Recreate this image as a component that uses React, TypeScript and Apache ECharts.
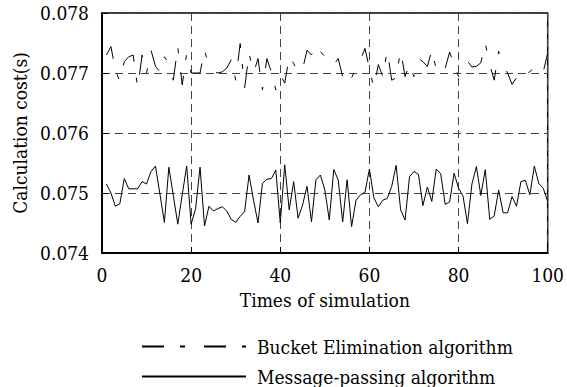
import React, { useEffect, useRef } from "react";
import * as echarts from "echarts";

const seriesNames = ["Bucket Elimination algorithm", "Message-passing algorithm"];
const yTicks = [0.074, 0.075, 0.076, 0.077, 0.078];
const xTicks = [0, 20, 40, 60, 80, 100];

// simulation runs 1..100
const bucketElimination = [
  0.0773, 0.07744, 0.07705, 0.07686, 0.07719, 0.07727, 0.0773, 0.07675, 0.0773, 0.077,
  0.07738, 0.07711, 0.07702, 0.07727, 0.07716, 0.07688, 0.07744, 0.0768, 0.07733, 0.077,
  0.077, 0.077, 0.07738, 0.07711, 0.07702, 0.077, 0.07702, 0.07708, 0.07722, 0.07688,
  0.07749, 0.07675, 0.07733, 0.077, 0.07724, 0.07672, 0.07724, 0.07702, 0.07672, 0.07697,
  0.07683, 0.07727, 0.07716, 0.077, 0.07706, 0.07738, 0.0773, 0.07745, 0.07736, 0.07727,
  0.07713, 0.07714, 0.07724, 0.07694, 0.07683, 0.07692, 0.07708, 0.07722, 0.07741, 0.07708,
  0.07675, 0.07714, 0.07694, 0.07738, 0.07688, 0.07692, 0.07738, 0.07694, 0.07714, 0.07694,
  0.07724, 0.07719, 0.07711, 0.07738, 0.07706, 0.07697, 0.07708, 0.07735, 0.07714, 0.07694,
  0.07706, 0.0772, 0.0771, 0.07711, 0.07717, 0.07749, 0.07714, 0.07688, 0.07736, 0.07714,
  0.077, 0.07681, 0.07692, 0.07688, 0.07697, 0.07702, 0.07711, 0.077, 0.07702, 0.07733,
];

const messagePassing = [
  0.07515, 0.075, 0.07478, 0.07482, 0.07524, 0.07507, 0.07507, 0.07507, 0.07519, 0.07515,
  0.07536, 0.07545, 0.07498, 0.07451, 0.07543, 0.07496, 0.07448, 0.07497, 0.07545, 0.07448,
  0.07474, 0.07543, 0.07445, 0.07478, 0.0747, 0.07474, 0.07477, 0.0747, 0.07456, 0.07451,
  0.07461, 0.07469, 0.0753, 0.07488, 0.0745, 0.07516, 0.07523, 0.07524, 0.07538, 0.0745,
  0.07547, 0.07472, 0.07519, 0.07458, 0.0748, 0.07511, 0.07452, 0.07522, 0.0753, 0.07505,
  0.07455, 0.07539, 0.07522, 0.07452, 0.07522, 0.07444, 0.07488, 0.07497, 0.07501, 0.0754,
  0.07492, 0.07477, 0.07488, 0.07491, 0.07511, 0.07546, 0.07472, 0.07455, 0.07527, 0.07536,
  0.07531, 0.07479, 0.0751, 0.07486, 0.0754, 0.07532, 0.07481, 0.07485, 0.07533, 0.07508,
  0.07495, 0.07449, 0.07515, 0.07544, 0.07496, 0.07539, 0.07456, 0.07462, 0.07505, 0.07467,
  0.07467, 0.07494, 0.07478, 0.07519, 0.07521, 0.07497, 0.07545, 0.07516, 0.07508, 0.07486,
];

const FONT = "DejaVu Serif Condensed, DejaVu Serif, serif";
const FS = 19;

export default function App() {
  const ref = useRef<HTMLDivElement>(null);
  useEffect(() => {
    if (!ref.current) return;
    const chart = echarts.init(ref.current, undefined, { renderer: "svg" });
    const toPairs = (arr: number[]) => arr.map((v, i) => [i + 1, v]);
    const legendCommon = {
      orient: "horizontal",
      left: 141,
      padding: 0,
      itemWidth: 104,
      itemHeight: 21,
      itemStyle: { opacity: 0, borderWidth: 0 },
      textStyle: { fontFamily: FONT, fontSize: FS, color: "#000", lineHeight: 21, padding: [0, 0, 0, 6] },
    };
    chart.setOption({
      animation: false,
      backgroundColor: "#ffffff",
      textStyle: { fontFamily: FONT, color: "#000" },
      grid: {
        left: 102,
        right: 15,
        top: 13,
        bottom: 134,
        show: true,
        borderColor: "#000",
        borderWidth: 1.5,
        backgroundColor: "transparent",
      },
      xAxis: {
        type: "value",
        min: xTicks[0],
        max: xTicks[xTicks.length - 1],
        interval: 20,
        name: "Times of simulation",
        nameLocation: "middle",
        nameGap: 37,
        nameTextStyle: { fontFamily: FONT, fontSize: FS, color: "#000" },
        axisLine: { show: true, lineStyle: { color: "#000", width: 2 } },
        axisTick: { show: true, inside: true, length: 6, lineStyle: { color: "#000", width: 1 } },
        axisLabel: { fontFamily: FONT, fontSize: FS, color: "#000", margin: 12 },
        splitLine: { show: true, lineStyle: { color: "#444", width: 1, type: [8, 5] } },
      },
      yAxis: {
        type: "value",
        min: yTicks[0],
        max: yTicks[yTicks.length - 1],
        interval: 0.001,
        name: "Calculation cost(s)",
        nameLocation: "middle",
        nameGap: 71,
        nameTextStyle: { fontFamily: FONT, fontSize: FS, color: "#000" },
        axisLine: { show: true, lineStyle: { color: "#000", width: 2 } },
        axisTick: { show: true, inside: true, length: 6, lineStyle: { color: "#000", width: 1 } },
        axisLabel: {
          fontFamily: FONT,
          fontSize: FS,
          color: "#000",
          margin: 13,
          formatter: (v: number) => v.toFixed(3),
        },
        splitLine: { show: true, lineStyle: { color: "#444", width: 1, type: [8, 5] } },
      },
      legend: [
        { ...legendCommon, top: 336, data: [seriesNames[0]] },
        { ...legendCommon, top: 366, data: [seriesNames[1]] },
      ],
      series: [
        {
          name: seriesNames[0],
          type: "line",
          data: toPairs(bucketElimination),
          symbol: "none",
          lineStyle: { color: "#000", width: 1, type: [22, 16, 5, 19] },
          itemStyle: { color: "#000" },
        },
        {
          name: seriesNames[1],
          type: "line",
          data: toPairs(messagePassing),
          symbol: "none",
          lineStyle: { color: "#000", width: 1, type: "solid" },
          itemStyle: { color: "#000" },
        },
      ],
    });
    return () => chart.dispose();
  }, []);
  return <div ref={ref} style={{ width: 567, height: 387, position: "absolute", left: 0, top: 0 }} />;
}
